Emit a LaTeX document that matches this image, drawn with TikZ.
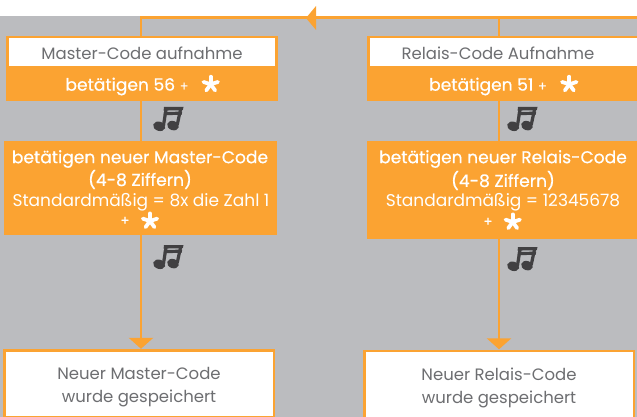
\documentclass[tikz,border=0pt]{standalone}
\usepackage{fontspec}
\setmainfont{Poppins}
\newfontfamily\semib[FakeBold=0.6]{Poppins}
\usetikzlibrary{arrows.meta}
\definecolor{og}{HTML}{FBA332}
\definecolor{bg}{HTML}{BBBCBF}
\definecolor{tx}{HTML}{6D6E71}
\definecolor{nt}{HTML}{414042}
\tikzset{
  x=1pt,y=-1pt,
  conn/.style={draw=og,line width=2.7pt},
  connarrow/.style={conn,shorten >=1.5pt,-{Triangle[length=11pt,width=24pt]}},
  box/.style={draw=none,fill=og,inner sep=0pt,outer sep=0pt,anchor=north west},
  whitebox/.style={fill=white,draw=og,line width=2.6pt,inner sep=0pt,outer sep=0pt,anchor=north west},
  lblw/.style={text=white,inner sep=0pt,font=\semib\fontsize{17.1}{17}\selectfont},
  lblr/.style={text=white,inner sep=0pt,font=\fontsize{17}{17}\selectfont},
  lblg/.style={text=tx,inner sep=0pt,font=\fontsize{16.5}{17}\selectfont},
  lblsm/.style={text=white,inner sep=0pt,font=\semib\fontsize{13}{13}\selectfont},
  starp/.pic={\foreach \a in {90,162,234,306,18}\draw[white,line width=3.8pt,line cap=round] (0,0) -- (\a:7.6pt);},
  notep/.pic={
    \fill[nt] (6.2,19.3) ellipse [x radius=6.2pt,y radius=4.6pt,rotate=-18];
    \fill[nt] (20,18.6) ellipse [x radius=6pt,y radius=4.6pt,rotate=-18];
    \draw[nt,line width=3.2pt] (10.4,19) -- (13.2,1.2);
    \draw[nt,line width=3.2pt] (24.2,18) -- (27.8,1.2);
    \fill[nt] (11,0) -- (30.5,0) -- (29.8,3.2) -- (10.6,3.6) -- cycle;
    \fill[nt] (11,5) -- (29.2,4.6) -- (28.6,7.8) -- (10.6,8.2) -- cycle;
  }
}
\begin{document}
\begin{tikzpicture}
\useasboundingbox (0,0) rectangle (637,417);
\fill[bg] (0,16) rectangle (637,417);
\coordinate (topr) at (637,17.7);
\coordinate (topl) at (141,17.7);
\coordinate (topm) at (499,17.7);
% boxes
\node[box,minimum width=272pt,minimum height=65pt] (m1) at (6,36) {};
\node[whitebox,minimum width=269.4pt,minimum height=30pt] (m1w) at (7.3,37.1) {};
\node[box,minimum width=273pt,minimum height=94pt] (m2) at (4,141) {};
\node[whitebox,minimum width=269.3pt,minimum height=67.4pt] (m3) at (4.6,350.3) {};
\node[box,minimum width=270pt,minimum height=65pt] (r1) at (367,36) {};
\node[whitebox,minimum width=272pt,minimum height=30pt] (r1w) at (368.3,37.1) {};
\node[box,minimum width=270pt,minimum height=98pt] (r2) at (367,141) {};
\node[whitebox,minimum width=269.4pt,minimum height=70pt] (r3) at (364.5,350.8) {};
% connectors
\draw[conn] (topr) -- (topl) -- (topl |- m1.north);
\draw[conn] (topm) -- (topm |- r1.north);
\draw[conn] (topl |- m1.south) -- (topl |- m2.north);
\draw[conn] (topm |- r1.south) -- (topm |- r2.north);
\draw[connarrow] (topl |- m2.south) -- (topl |- m3.north);
\draw[connarrow] (topm |- r2.south) -- (topm |- r3.north);
\fill[og] (306,18) -- (316,6) -- (316,30) -- cycle;
% labels
\node[lblg] (t1) at (142,53) {Master-Code aufnahme};
\node[lblw] (t2) at (127,86.5) {betätigen 56 {\fontsize{13}{13}\selectfont+}};
\node[lblg] (t3) at (498,53) {Relais-Code Aufnahme};
\node[lblw] (t4) at (488,86.5) {betätigen 51 {\fontsize{13}{13}\selectfont+}};
\node[lblw] (t5) at (140,159) {betätigen neuer Master-Code};
\node[lblw] (t6) at (140,179.5) {(4-8 Ziffern)};
\node[lblr] (t7) at (141,202.5) {Standardmäßig = 8x die Zahl 1};
\node[lblsm] (t8) at (125,221) {+};
\node[lblw] (t9) at (503,159) {betätigen neuer Relais-Code};
\node[lblw] (t10) at (503,180.5) {(4-8 Ziffern)};
\node[lblr] (t11) at (503,202.5) {Standardmäßig = 12345678};
\node[lblsm] (t12) at (488,222) {+};
\node[lblg] (t13) at (139,373) {Neuer Master-Code};
\node[lblg] (t14) at (139,398) {wurde gespeichert};
\node[lblg] (t15) at (499,374) {Neuer Relais-Code};
\node[lblg] (t16) at (499,399) {wurde gespeichert};
% stars and notes
\pic at (210.7,84.3) {starp};
\pic at (569.3,84.3) {starp};
\pic at (150,221) {starp};
\pic at (512.7,222) {starp};
\pic at (153,107) {notep};
\pic at (507,107) {notep};
\pic at (153,245) {notep};
\pic at (507,247) {notep};
\end{tikzpicture}
\end{document}
